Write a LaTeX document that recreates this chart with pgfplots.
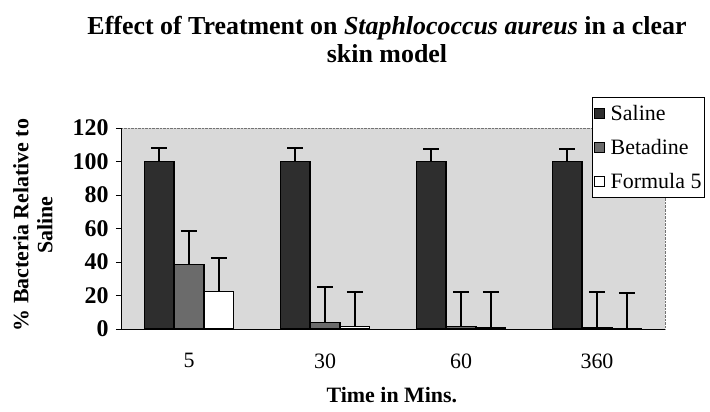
\documentclass[border=0pt]{standalone}
\usepackage{fontspec}
\setmainfont{Liberation Serif}
\usepackage{pgfplots}
\pgfplotsset{compat=1.18}
\pgfplotstableread{
x y e
0 100 8
1 100 8
2 100 7.5
3 100 7.5
}\saline
\pgfplotstableread{
x y e
0 38.5 20
1 4 21
2 1.5 20.5
3 1 21
}\betadine
\pgfplotstableread{
x y e
0 22.5 20
1 1.5 20.5
2 1 21
3 0.5 21
}\formula
\begin{document}
\begin{tikzpicture}
\path[use as bounding box] (-121bp,-83bp) rectangle (589bp,329bp);
\begin{axis}[
  at={(0,0)}, anchor=south west,
  scale only axis, width=544bp, height=201bp,
  xmin=-0.5, xmax=3.5, ymin=0, ymax=120,
  clip=false,
  axis lines*=left,
  axis line style={black, line width=0.9pt},
  axis background/.style={fill=black!15, draw=black!55, densely dotted},
  ytick={0,20,...,120},
  xtick={0,1,2,3}, xticklabels={5,30,60,360},
  major x tick style={draw=none},
  extra x ticks={-0.5,0.5,1.5,2.5,3.5}, extra x tick labels={},
  extra x tick style={tick style={draw=black, thin}, major tick length=5bp},
  tick align=outside,
  major tick length=5bp,
  ytick style={black, thin},
  /pgf/number format/assume math mode=true,
  yticklabel style={font=\bfseries\fontsize{24}{24}\selectfont, xshift=-4bp},
  xticklabel style={font=\fontsize{22}{22}\selectfont, yshift=-16bp},
  xlabel={Time in Mins.},
  xlabel style={font=\bfseries\fontsize{22}{22}\selectfont, at={(axis description cs:0.498,-0.328)}, anchor=center},
  ylabel={\% Bacteria Relative to\\Saline},
  ylabel style={align=center, font=\bfseries\fontsize{22}{24}\selectfont, at={(axis description cs:-0.162,0.517)}, anchor=center},
  ybar=0pt, bar width=0.22,
  error bars/y dir=plus, error bars/y explicit,
  error bars/error bar style={black, line width=1.8pt},
  error bars/error mark options={black, line width=1.8pt, mark size=8bp, rotate=90},
  legend style={at={(0.866,1.154)}, anchor=north west, draw=black, line width=0.8pt, fill=white,
    font=\fontsize{22}{22}\selectfont, row sep=13bp, inner xsep=1bp, inner ysep=6bp,
    cells={anchor=west}},
  legend cell align=left,
  mysq/.style={legend image code/.code={\draw[##1, draw=black, line width=1.3pt] (0bp,-5bp) rectangle (10bp,5bp); \path (14bp,0bp);}},
]
\addplot[fill=black!82, draw=black, line width=1.2pt, mysq] table[x=x, y=y, y error plus=e] {\saline};
\addlegendentry{Saline}
\addplot[fill=black!58, draw=black, line width=1.2pt, mysq] table[x=x, y=y, y error plus=e] {\betadine};
\addlegendentry{Betadine}
\addplot[fill=white, draw=black, line width=1.2pt, mysq] table[x=x, y=y, y error plus=e] {\formula};
\addlegendentry{Formula 5}
\node[align=center, font=\bfseries\fontsize{26}{29}\selectfont] at (rel axis cs:0.489,1.44)
  {Effect of Treatment on \textit{Staphlococcus aureus} in a clear\\skin model};
\end{axis}
\end{tikzpicture}
\end{document}
